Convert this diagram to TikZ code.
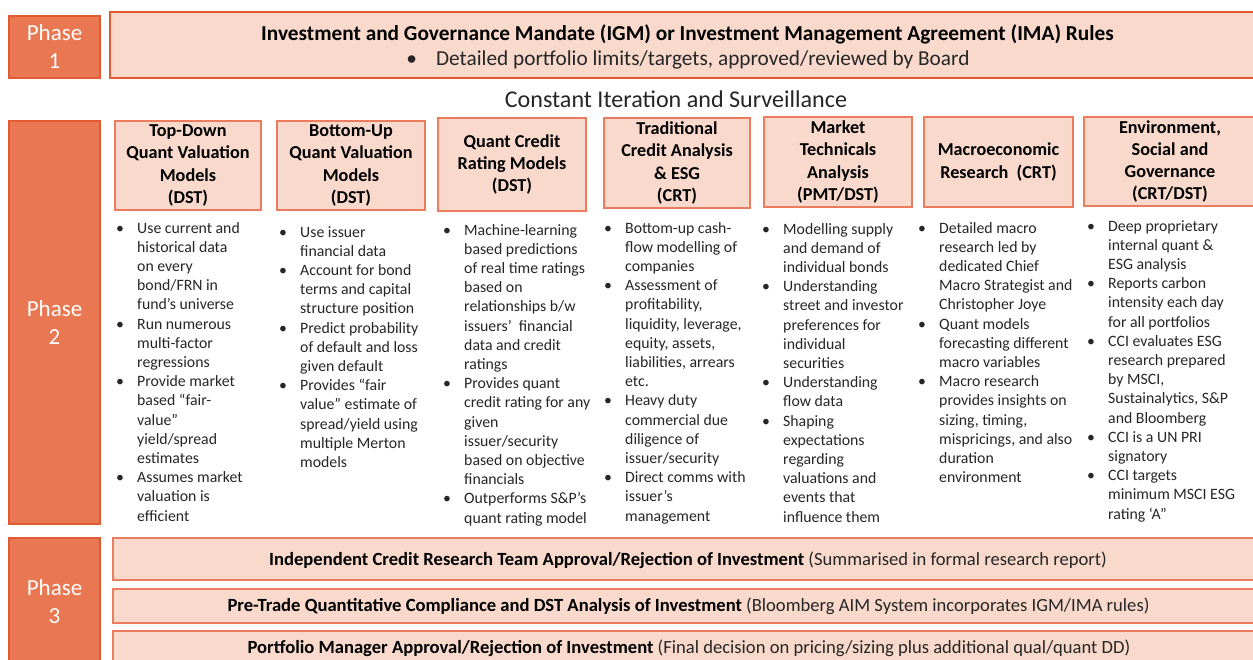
\documentclass[tikz,border=0pt]{standalone}
\usepackage{fontspec}
\setmainfont{Carlito}
\definecolor{phasefill}{HTML}{E97751}
\definecolor{phaseline}{HTML}{E25A31}
\definecolor{lightfill}{HTML}{F8D9CB}
\definecolor{boxline}{HTML}{EB7D5E}
\definecolor{topline}{HTML}{E5592F}
\definecolor{bodytext}{HTML}{262626}
\newcommand\mybul{\llap{•\hspace{13.2pt}}}
\tikzset{
  phasebox/.style={draw=phaseline, line width=1.2pt, fill=phasefill, text=white, align=center, inner sep=0pt,
    font=\fontsize{23}{28}\selectfont},
  headbox/.style={draw=boxline, line width=1.2pt, fill=lightfill, align=center, inner sep=0pt,
    font=\fontsize{18.2}{22.3}\selectfont\bfseries},
  rowbox/.style={draw=boxline, line width=1.2pt, fill=lightfill, align=center, inner sep=0pt,
    font=\fontsize{18.6}{22}\selectfont},
  topbox/.style={draw=topline, line width=1.2pt, fill=lightfill, align=center, inner sep=0pt},
  bullets/.style={anchor=base west, inner sep=0pt, text=bodytext, font=\fontsize{15.8}{19.2}\selectfont}
}
\begin{document}
\begin{tikzpicture}[x=1pt,y=-1pt]
\useasboundingbox (0,0) rectangle (1253,659);
\clip (0,0) rectangle (1253,659);
\fill[white] (0,0) rectangle (1253,659);

% Phase boxes
\node[phasebox, minimum width=91pt, minimum height=62pt] (p1) at (54.5,47) {Phase\\1};
\node[phasebox, minimum width=91pt, minimum height=403pt] (p2) at (54.5,322.5) {Phase\\2};
\node[phasebox, minimum width=91pt, minimum height=127pt] (p3) at (54.5,601.5) {Phase\\3};

% Phase 1 mandate box
\node[topbox, minimum width=1152pt, minimum height=66pt] (igm) at (686,45) {};
\node[inner sep=0pt, font=\fontsize{21.3}{26}\selectfont\bfseries] (igmt) at (687.5,34)
  {Investment and Governance Mandate (IGM) or Investment Management Agreement (IMA) Rules};
\node[inner sep=0pt, font=\fontsize{21.3}{26}\selectfont, text=bodytext] (igmb) at (688,60)
  {•\hspace{19pt}Detailed portfolio limits/targets, approved/reviewed by Board};

\node[inner sep=0pt, font=\fontsize{24.1}{28}\selectfont, text=bodytext] (cis) at (676,99.5)
  {Constant Iteration and Surveillance};

% Column headers
\node[headbox, minimum width=146pt, minimum height=89pt] (h1) at (188,165.5) {Top-Down\\Quant Valuation\\Models\\(DST)};
\node[headbox, minimum width=148pt, minimum height=89pt] (h2) at (351,165.5) {Bottom-Up\\Quant Valuation\\Models\\(DST)};
\node[headbox, minimum width=148pt, minimum height=93pt] (h3) at (512,164.5) {Quant Credit\\Rating Models\\(DST)};
\node[headbox, minimum width=146pt, minimum height=90pt] (h4) at (677,163) {Traditional\\Credit Analysis\\\& ESG\\(CRT)};
\node[headbox, minimum width=148pt, minimum height=90pt] (h5) at (838,162) {Market\\Technicals\\Analysis\\(PMT/DST)};
\node[headbox, minimum width=149pt, minimum height=90pt] (h6) at (998.5,162) {Macroeconomic\\Research~~(CRT)};
\node[headbox, minimum width=172pt, minimum height=89pt] (h7) at (1170,161.5) {Environment,\\Social and\\Governance\\(CRT/DST)};

% Bullet columns
\node[bullets] (b1) at (137,233) {\begin{tabular}[t]{@{}l@{}}
\mybul Use current and\\ historical data\\ on every\\ bond/FRN in\\ fund’s universe\\
\mybul Run numerous\\ multi-factor\\ regressions\\
\mybul Provide market\\ based “fair-\\ value”\\ yield/spread\\ estimates\\
\mybul Assumes market\\ valuation is\\ efficient
\end{tabular}};
\node[bullets] (b2) at (300,237) {\begin{tabular}[t]{@{}l@{}}
\mybul Use issuer\\ financial data\\
\mybul Account for bond\\ terms and capital\\ structure position\\
\mybul Predict probability\\ of default and loss\\ given default\\
\mybul Provides “fair\\ value” estimate of\\ spread/yield using\\ multiple Merton\\ models
\end{tabular}};
\node[bullets] (b3) at (464,235) {\begin{tabular}[t]{@{}l@{}}
\mybul Machine-learning\\ based predictions\\ of real time ratings\\ based on\\ relationships b/w\\ issuers’~ financial\\ data and credit\\ ratings\\
\mybul Provides quant\\ credit rating for any\\ given\\ issuer/security\\ based on objective\\ financials\\
\mybul Outperforms S\&P’s\\ quant rating model
\end{tabular}};
\node[bullets] (b4) at (625,233) {\begin{tabular}[t]{@{}l@{}}
\mybul Bottom-up cash-\\ flow modelling of\\ companies\\
\mybul Assessment of\\ profitability,\\ liquidity, leverage,\\ equity, assets,\\ liabilities, arrears\\ etc.\\
\mybul Heavy duty\\ commercial due\\ diligence of\\ issuer/security\\
\mybul Direct comms with\\ issuer’s\\ management
\end{tabular}};
\node[bullets] (b5) at (783,234) {\begin{tabular}[t]{@{}l@{}}
\mybul Modelling supply\\ and demand of\\ individual bonds\\
\mybul Understanding\\ street and investor\\ preferences for\\ individual\\ securities\\
\mybul Understanding\\ flow data\\
\mybul Shaping\\ expectations\\ regarding\\ valuations and\\ events that\\ influence them
\end{tabular}};
\node[bullets] (b6) at (939,233) {\begin{tabular}[t]{@{}l@{}}
\mybul Detailed macro\\ research led by\\ dedicated Chief\\ Macro Strategist and\\ Christopher Joye\\
\mybul Quant models\\ forecasting different\\ macro variables\\
\mybul Macro research\\ provides insights on\\ sizing, timing,\\ mispricings, and also\\ duration\\ environment
\end{tabular}};
\node[bullets] (b7) at (1108,231) {\begin{tabular}[t]{@{}l@{}}
\mybul Deep proprietary\\ internal quant \&\\ ESG analysis\\
\mybul Reports carbon\\ intensity each day\\ for all portfolios\\
\mybul CCI evaluates ESG\\ research prepared\\ by MSCI,\\ Sustainalytics, S\&P\\ and Bloomberg\\
\mybul CCI is a UN PRI\\ signatory\\
\mybul CCI targets\\ minimum MSCI ESG\\ rating ‘A”
\end{tabular}};

% Phase 3 rows
\node[rowbox, minimum width=1149pt, minimum height=42pt] (r1) at (687.5,559) {};
\node[rowbox, minimum width=1149pt, minimum height=34pt] (r2) at (687.5,606) {};
\node[rowbox, minimum width=1149pt, minimum height=34pt] (r3) at (687.5,648) {};
\node[inner sep=0pt, font=\fontsize{18.6}{22}\selectfont, text=bodytext] (r1t) at (688,560.5)
  {\textbf{\color{black}Independent Credit Research Team Approval/Rejection of Investment} (Summarised in formal research report)};
\node[inner sep=0pt, font=\fontsize{18.6}{22}\selectfont, text=bodytext] (r2t) at (688.5,606.5)
  {\textbf{\color{black}Pre-Trade Quantitative Compliance and DST Analysis of Investment} (Bloomberg AIM System incorporates IGM/IMA rules)};
\node[inner sep=0pt, font=\fontsize{18.6}{22}\selectfont, text=bodytext] (r3t) at (689,648.5)
  {\textbf{\color{black}Portfolio Manager Approval/Rejection of Investment} (Final decision on pricing/sizing plus additional qual/quant DD)};
\end{tikzpicture}
\end{document}
